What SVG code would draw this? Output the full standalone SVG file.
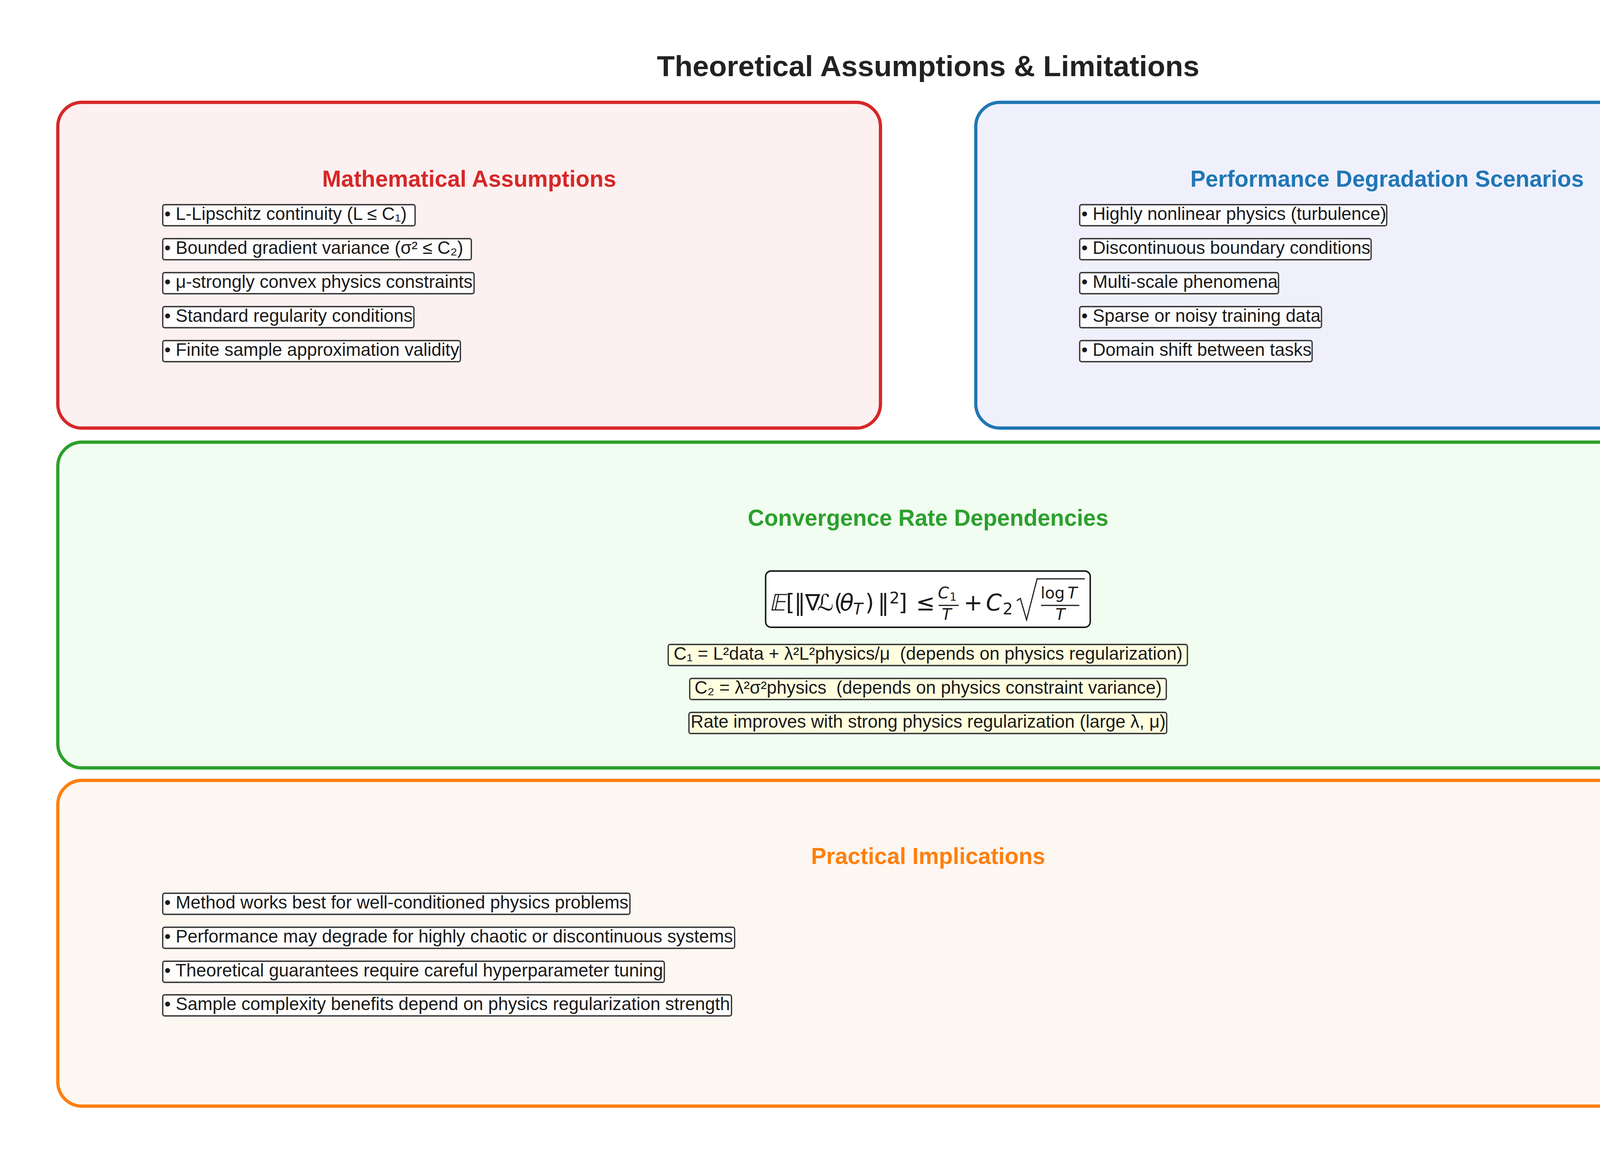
<svg xmlns="http://www.w3.org/2000/svg" width="4752" height="2952" viewBox="0 0 4752 2952">
<style>
.panel{stroke-width:8.3}
.ttl{font-family:"Liberation Sans",Arial,sans-serif;font-weight:bold;font-size:75px;fill:#222;text-anchor:middle}
.sec{font-family:"Liberation Sans",Arial,sans-serif;font-weight:bold;font-size:58.3px;text-anchor:middle}
.it{font-family:"Liberation Sans",Arial,"DejaVu Sans",sans-serif;font-size:45.83px;fill:#1a1a1a;white-space:pre}
.ib{fill:#ffffff;fill-opacity:0.85;stroke:#333;stroke-width:3.3}
.gb{fill:#ffffe0;stroke:#333;stroke-width:3.3}
.m{font-family:"DejaVu Sans",sans-serif;font-size:58px;fill:#1a1a1a}
.mi{font-family:"DejaVu Sans",sans-serif;font-size:58px;font-style:italic;fill:#1a1a1a}
.s{font-family:"DejaVu Sans",sans-serif;font-size:40.6px;fill:#1a1a1a}
.si{font-family:"DejaVu Sans",sans-serif;font-size:40.6px;font-style:italic;fill:#1a1a1a}
.ss{font-family:"DejaVu Sans",sans-serif;font-size:28.4px;fill:#1a1a1a}
.bar{stroke:#1a1a1a;stroke-width:2.8;fill:none}
</style>
<rect width="4752" height="2952" fill="#ffffff"/>
<text class="ttl" x="2376" y="195">Theoretical Assumptions &amp; Limitations</text>

<g id="math-assumptions">
<rect class="panel" x="148" y="262" width="2106" height="834" rx="62" fill="#fdf0f0" stroke="#d62728"/>
<text class="sec" x="1201" y="478" fill="#d62728">Mathematical Assumptions</text>
<rect class="ib" x="416.6" y="524" width="646" height="54" rx="5"/>
<text class="it" x="421" y="563">• L-Lipschitz continuity (L ≤ C₁)</text>
<rect class="ib" x="416.6" y="611" width="790" height="54" rx="5"/>
<text class="it" x="421" y="650">• Bounded gradient variance (σ² ≤ C₂)</text>
<rect class="ib" x="416.6" y="698" width="797" height="54" rx="5"/>
<text class="it" x="421" y="737">• μ-strongly convex physics constraints</text>
<rect class="ib" x="416.6" y="785" width="643" height="54" rx="5"/>
<text class="it" x="421" y="824">• Standard regularity conditions</text>
<rect class="ib" x="416.6" y="872" width="762" height="54" rx="5"/>
<text class="it" x="421" y="911">• Finite sample approximation validity</text>
</g>

<g id="performance-degradation">
<rect class="panel" x="2498" y="262" width="2106" height="834" rx="62" fill="#f0f0fd" stroke="#1f77b4"/>
<text class="sec" x="3551" y="478" fill="#1f77b4">Performance Degradation Scenarios</text>
<rect class="ib" x="2764" y="524" width="786" height="54" rx="5"/>
<text class="it" x="2768.5" y="563">• Highly nonlinear physics (turbulence)</text>
<rect class="ib" x="2764" y="611" width="746" height="54" rx="5"/>
<text class="it" x="2768.5" y="650">• Discontinuous boundary conditions</text>
<rect class="ib" x="2764" y="698" width="509" height="54" rx="5"/>
<text class="it" x="2768.5" y="737">• Multi-scale phenomena</text>
<rect class="ib" x="2764" y="785" width="619" height="54" rx="5"/>
<text class="it" x="2768.5" y="824">• Sparse or noisy training data</text>
<rect class="ib" x="2764" y="872" width="595" height="54" rx="5"/>
<text class="it" x="2768.5" y="911">• Domain shift between tasks</text>
</g>

<g id="convergence-rate">
<rect class="panel" x="148" y="1132" width="4456" height="834" rx="62" fill="#f0fdf0" stroke="#2ca02c"/>
<text class="sec" x="2376" y="1346" fill="#2ca02c">Convergence Rate Dependencies</text>
<g id="formula">
<rect x="1960" y="1462" width="831" height="144" rx="14" fill="#ffffff" stroke="#1a1a1a" stroke-width="3.8"/>
<text class="m" transform="translate(1969,1563) skewX(-12)" x="0" y="0">𝔼</text>
<text class="m" x="2012" y="1563">[</text>
<text class="m" x="2033" y="1563">‖</text>
<text class="m" x="2061" y="1563">∇</text>
<text class="m" x="2092" y="1563">ℒ</text>
<text class="m" x="2135" y="1563">(</text>
<text class="mi" x="2150" y="1563">θ</text>
<text class="si" x="2184" y="1573">T</text>
<text class="m" x="2215" y="1563">)</text>
<text class="m" x="2247" y="1563">‖</text>
<text class="s" x="2277" y="1545">2</text>
<text class="m" x="2300" y="1563">]</text>
<text class="m" x="2345" y="1563">≤</text>
<text class="si" x="2401" y="1532">C</text>
<text class="ss" x="2431" y="1538">1</text>
<line class="bar" x1="2403" y1="1550" x2="2454" y2="1550"/>
<text class="si" x="2411" y="1587">T</text>
<text class="m" x="2467" y="1563">+</text>
<text class="mi" x="2524" y="1563">C</text>
<text class="s" x="2567" y="1573">2</text>
<polyline class="bar" points="2603,1538 2612,1532 2628,1587 2655,1482 2777,1482" stroke-width="3"/>
<text class="s" x="2664" y="1532">log</text>
<text class="si" x="2733" y="1532">T</text>
<line class="bar" x1="2665" y1="1550" x2="2763" y2="1550"/>
<text class="si" x="2702" y="1587">T</text>
</g>
<rect class="gb" x="1710.7" y="1650" width="1329" height="54" rx="5"/>
<text class="it" x="2376" y="1689" text-anchor="middle">C₁ = L²data + λ²L²physics/μ  (depends on physics regularization)</text>
<rect class="gb" x="1765.7" y="1737" width="1220" height="54" rx="5"/>
<text class="it" x="2376" y="1776" text-anchor="middle">C₂ = λ²σ²physics  (depends on physics constraint variance)</text>
<rect class="gb" x="1763.7" y="1824" width="1223" height="54" rx="5"/>
<text class="it" x="2376" y="1863" text-anchor="middle">Rate improves with strong physics regularization (large λ, μ)</text>
</g>

<g id="practical-implications">
<rect class="panel" x="148" y="1998" width="4456" height="834" rx="62" fill="#fdf7f1" stroke="#ff7f0e"/>
<text class="sec" x="2376" y="2212" fill="#ff7f0e">Practical Implications</text>
<rect class="ib" x="416.6" y="2287" width="1196" height="54" rx="5"/>
<text class="it" x="421" y="2326">• Method works best for well-conditioned physics problems</text>
<rect class="ib" x="416.6" y="2374" width="1464" height="54" rx="5"/>
<text class="it" x="421" y="2413">• Performance may degrade for highly chaotic or discontinuous systems</text>
<rect class="ib" x="416.6" y="2461" width="1284" height="54" rx="5"/>
<text class="it" x="421" y="2500">• Theoretical guarantees require careful hyperparameter tuning</text>
<rect class="ib" x="416.6" y="2547" width="1456" height="54" rx="5"/>
<text class="it" x="421" y="2586">• Sample complexity benefits depend on physics regularization strength</text>
</g>

<g id="connectors"></g>
</svg>
